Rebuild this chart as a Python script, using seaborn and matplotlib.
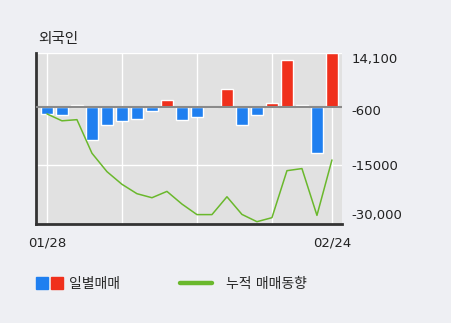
import matplotlib
matplotlib.use("Agg")
import matplotlib.pyplot as plt
from matplotlib.patches import Patch
from matplotlib.lines import Line2D
from matplotlib.legend_handler import HandlerTuple
import seaborn as sns
import pandas as pd
import numpy as np

# ---- data ----
days = list(range(20))
date_labels = ["01/28", "", "", "", "", "", "", "", "", "", "", "", "", "", "", "", "", "", "", "02/24"]
daily = [-1650, -1900, 650, -8400, -4700, -3650, -2950, -1050, 1800, -3400,
         -2600, 0, 4900, -4500, -2100, 1200, 12450, 550, -12000, 14100]
cumulative = [-1700, -3500, -3200, -11950, -16750, -20050, -22500, -23550, -21900, -25200,
              -27950, -27950, -23300, -27900, -29800, -28750, -16500, -15950, -28150, -13700]
y_ticks = [14100, -600, -15000, -30000]
y_tick_labels = ["14,100", "-600", "-15000", "-30,000"]
grid_levels = [14100, -15000]
vgrid_days = [0, 5, 10, 15, 19]
title = "외국인"
legend_bar = "일별매매"
legend_line = "누적 매매동향"

BLUE = "#1f7ff0"
RED = "#f0301c"
GREEN = "#6ab82c"
BG = "#eeeff3"
PLOT_BG = "#e1e1e1"

sns.set_theme(style="white")
plt.rcParams["font.family"] = ["DejaVu Sans", "Noto Sans CJK KR"]

df = pd.DataFrame({"day": days, "value": daily,
                   "sign": ["pos" if v > 0 else "neg" for v in daily]})

fig = plt.figure(figsize=(4.51, 3.23), dpi=100, facecolor=BG)
ax = fig.add_axes([36 / 451, 1 - 224 / 323, (342 - 36) / 451, (224 - 53.3) / 323])
ax.set_facecolor(PLOT_BG)

# grid
for d in vgrid_days:
    ax.axvline(d, color="white", lw=1.0, zorder=0)
for g in grid_levels:
    ax.axhline(g, color="white", lw=1.0, zorder=0)

sns.barplot(data=df, x="day", y="value", hue="sign",
            palette={"pos": RED, "neg": BLUE}, dodge=False,
            width=0.85, legend=False, ax=ax, zorder=2, saturation=1)
ax.axhline(0, color="#8a8a8a", lw=1.5, zorder=3)

sns.lineplot(x=days, y=cumulative, color=GREEN, lw=1.1, ax=ax, zorder=4)

ax.set_xlim(-0.73, 19.67)
ax.set_ylim(-30400, 14100)
ax.set_xticks(days)
ax.set_xticklabels(date_labels)
ax.set_xlabel("")
ax.set_ylabel("")
ax.yaxis.tick_right()
ax.set_yticks(y_ticks)
ax.set_yticklabels(y_tick_labels)
ax.tick_params(axis="y", length=0, pad=7, labelsize=9.5, colors="#222222")
ax.tick_params(axis="x", length=0, pad=9, labelsize=9.5, colors="#222222")
yl = ax.get_yticklabels()
yl[0].set_va("top")
yl[-1].set_va("bottom")

for s in ["top", "right"]:
    ax.spines[s].set_visible(False)
for s in ["left", "bottom"]:
    ax.spines[s].set_color("#333333")
    ax.spines[s].set_linewidth(2)

fig.text(38 / 451, 1 - 38 / 323, title, fontsize=10.5, va="center", ha="left",
         color="#222222")

leg1 = fig.legend(handles=[(Patch(color=BLUE), Patch(color=RED))], labels=[legend_bar],
                  handler_map={tuple: HandlerTuple(ndivide=None, pad=0.22)},
                  loc="center left", bbox_to_anchor=(36 / 451 - 0.0, 1 - 284 / 323),
                  frameon=False, handlelength=1.95, handleheight=0.9,
                  handletextpad=0.45, borderpad=0, borderaxespad=0,
                  prop={"size": 10})
leg2 = fig.legend(handles=[Line2D([], [], color=GREEN, lw=3.2)], labels=[legend_line],
                  loc="center left", bbox_to_anchor=(180 / 451, 1 - 284 / 323),
                  frameon=False, handlelength=2.3, handletextpad=1.0,
                  borderpad=0, borderaxespad=0, prop={"size": 10})

fig.savefig("out.png", dpi=100, facecolor=BG)
